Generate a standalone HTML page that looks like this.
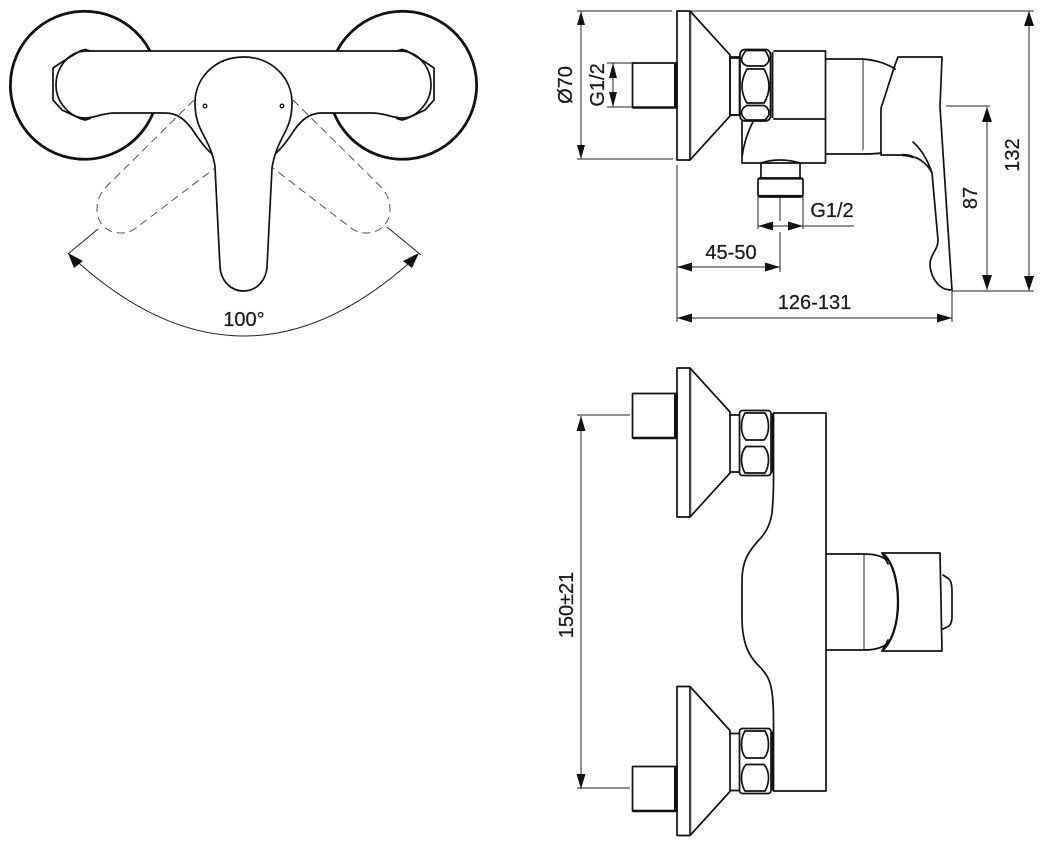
<!DOCTYPE html>
<html><head><meta charset="utf-8"><style>
html,body{margin:0;padding:0;background:#fff;width:1044px;height:846px;overflow:hidden}
svg{display:block}
text{font-family:"Liberation Sans",sans-serif;font-size:20px;fill:#1a1a1a;stroke:#1a1a1a;stroke-width:.25;text-anchor:middle}
.m{fill:none;stroke:#111;stroke-width:1.7;stroke-linejoin:round;stroke-linecap:round}
.t{fill:none;stroke:#222;stroke-width:1}
.h{fill:none;stroke:#111;stroke-width:2.8}
.d{fill:none;stroke:#555;stroke-width:1;stroke-dasharray:8 5}
.a{fill:#111;stroke:none}
</style></head><body>
<svg width="1044" height="846" viewBox="0 0 1044 846" xmlns="http://www.w3.org/2000/svg">
<defs>
<g id="nip"><rect class="m" x="632.500" y="0" width="44.500" height="44.500"/><path d="M675.500 1V44" stroke="#111" stroke-width="3"/><path d="M633 44.500H676" stroke="#111" stroke-width="2.400"/></g>
<g id="nut">
<rect class="m" x="739.500" y="0" width="31.500" height="65" rx="3"/>
<path class="m" d="M745 2.500H765Q768.500 8 768.500 16Q768.500 25 764 29.500H746Q741.500 25 741.500 16Q741.500 8 745 2.500Z"/>
<path class="m" d="M746 36H764Q768.500 41 768.500 49Q768.500 57 765 62.500H745Q741.500 57 741.500 49Q741.500 41 746 36Z"/>
<path d="M772.500 3V62" stroke="#111" stroke-width="1.800"/>
</g>
<g id="pl"><path class="m" d="M677 0H690V149H677ZM690 0L730 44V105L690 149"/><path class="m" d="M730 47H739M730 104H739"/><path d="M691 2V147" stroke="#888" stroke-width="1"/></g>
</defs>

<!-- top view -->
<path class="h" d="M150 51A74 74 0 1 0 153 113M337 51A74 74 0 1 1 334 113"/>
<path class="m" d="M402 51H85C68 52 56 68 56 85C56 102 70 118 85 118C95 118 102 113 115 113H165C178 113 185 120 192 129C198 138 204 147 211 153"/>
<path class="m" d="M402 51C419 52 431 68 431 85C431 102 417 118 402 118C392 118 385 113 372 113H322C309 113 302 120 295 129C289 138 283 147 276 153"/>
<path class="m" d="M80 51L85 49.500L90 51M80 51L62 62L53 68V100L62 110L80 118.500L85 120L90 118.500M397 51L402 49.500L407 51M407 51L425 62L434 68V100L425 110L407 118.500L402 120L397 118.500"/>
<path class="m" d="M215 167C214 158 211 149 204 136C199 127 195 118 195 103C195 77 216 57 243.500 57C271 57 292 77 292 103C292 118 288 127 283 136C278 146 274 155 272 168L267 267C266 281 256 291 243.500 291C231 291 221 281 220 267Z"/>
<circle cx="205" cy="106" r="1.800" fill="none" stroke="#111" stroke-width="1.300"/>
<circle cx="282" cy="106" r="1.800" fill="none" stroke="#111" stroke-width="1.300"/>
<path class="d" d="M194 100L107 186C99 194 97 202 97 210C97 224 108 233 120 233C126 233 131 232 136 228L215 168"/>
<path class="d" d="M293 100L380 186C388 194 390 202 390 210C390 224 379 233 367 233C361 233 356 232 351 228L273 168"/>
<path class="t" d="M98 229L68 254M387 227L421 255M70 255Q243.500 417 418 255"/>
<path class="a" d="M68 253L83 261L74 268Z"/><path class="a" d="M419 253L412 268L403 261Z"/>
<text x="244" y="326">100°</text>

<!-- side view -->
<path class="t" d="M577 11H672M690 11H1034M577 159H673M581 11V159M607 63H632M607 107H632M613 63V107M946 106H990M987 107V290M1029 11V291M952 291H1034M677 165V322M952 291V322M677 318H952M780 197V221M780 232V272M677 267H780M758 197V229M803 197V229M758 226H854"/>
<use href="#pl" transform="translate(0,11)"/>
<use href="#nip" transform="translate(0,63)"/>
<rect class="m" x="730" y="57" width="9.500" height="58"/>
<rect class="m" x="740" y="49.500" width="30.500" height="71.500" rx="5"/>
<path class="m" d="M746 50.500H765Q769 56 769 60Q768 64 764 66H747Q742 64 741.500 60Q741.500 56 746 50.500ZM747 69H764Q769 78 769 86Q769 95 764 103H747Q742 95 742 86Q742 78 747 69ZM747 105.500H764Q769 108 769 113Q769 116 765 120H746Q741.500 116 741.500 113Q741.500 108 747 105.500Z"/>
<path d="M772.500 52V118" stroke="#111" stroke-width="1.800"/>
<path class="m" d="M774 51H825.500V163H742V121M774 119H825.500M753 122C748 131 744 143 742 157M826 59H863C875 60 886 63 895 69M826 154H863C870 154 875 154 881 153"/>
<path class="t" d="M863 60V150"/>
<path class="m" d="M761 163V177M800 163V177M761 163Q780 157 800 163M758 180Q758 178 761 178H800Q803 178 803 180V195Q803 197 800 197H761Q758 197 758 195Z"/>
<path d="M759 178.500H802M759 196H802" stroke="#111" stroke-width="2.200"/>
<path class="m" d="M898 57H942L940 107L952 290C945 290 940 287 937 283C932 277 930 270 930 263C931 253 938 250 938 240L932 173C928 165 920 158 913 157C908 155 904 155 900 155H881V108C886 94 892 72 898 57Z"/>
<path class="m" d="M913 142C922 150 928 161 932 173"/>
<path d="M902 155Q908 155 913 157" stroke="#111" stroke-width="2.500" fill="none"/>
<path class="a" d="M581 11L585 25H577ZM581 159L585 145H577ZM613 63L617 78H609ZM613 107L617 92H609ZM987 107L992 122H982ZM987 290L992 275H982ZM1029 11L1034 26H1024ZM1029 291L1034 276H1024ZM677 318L692 313.500V322.500ZM952 318L937 313.500V322.500ZM677 267L692 262.500V271.500ZM780 267L765 262.500V271.500ZM758 226L773 221.500V230.500ZM803 226L788 221.500V230.500Z"/>
<text transform="translate(572,85) rotate(-90)">Ø70</text>
<text transform="translate(604,85) rotate(-90)">G1/2</text>
<text transform="translate(977,198) rotate(-90)">87</text>
<text transform="translate(1019,155) rotate(-90)">132</text>
<text x="814.500" y="309">126-131</text>
<text x="731" y="259">45-50</text>
<text x="832" y="217">G1/2</text>

<!-- front view -->
<use href="#pl" transform="translate(0,368)"/>
<use href="#pl" transform="translate(0,686.500)"/>
<use href="#nip" transform="translate(0,393.500)"/>
<use href="#nip" transform="translate(0,766.500)"/>
<use href="#nut" transform="translate(0,410.500)"/>
<use href="#nut" transform="translate(0,728.500)"/>
<path class="m" d="M773.500 413H826V791H773.500V720C773.500 708 773 700 772 692C770 678 765 672 758 665C750 657 742 645 742 617V580C742 560 750 550 758 541C766 533 770 525 772 513C773 503 773.500 495 773.500 483Z"/>
<path class="m" d="M826 554H863C872 554 880 555 887 560M826 650H863C872 650 880 649 887 644"/>
<path class="t" d="M864 555V649"/>
<path class="m" d="M882 553H940L942 651H882"/>
<path d="M882 553C892 560 898 580 898 602C898 624 892 642 882 651" fill="none" stroke="#111" stroke-width="2.300"/>
<path class="m" d="M882 553L888 564M882 651L888 640"/>
<path class="m" d="M943 575L949 579C951 581 952 586 952 590V617C952 621 951 624 949 626L943 629"/>
<path class="t" d="M577 415H630M577 788H630M581 416V789"/>
<path class="a" d="M581 416L585.500 431H576.500ZM581 789L585.500 774H576.500Z"/>
<text transform="translate(573,605) rotate(-90)">150±21</text>
</svg>
</body></html>
